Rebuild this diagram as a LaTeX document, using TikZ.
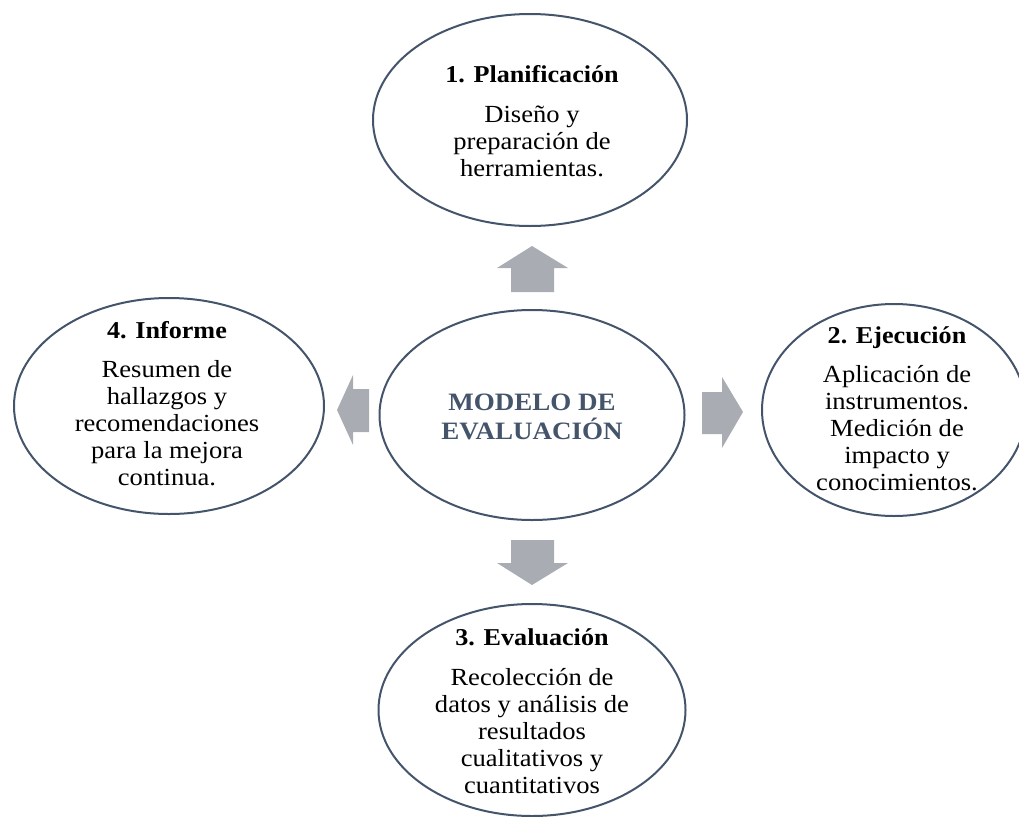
\documentclass[tikz,border=0pt]{standalone}
\usepackage{fontspec}
\setmainfont[FakeStretch=1.08]{Liberation Serif}
\usetikzlibrary{shapes.geometric}
\definecolor{edge}{HTML}{44546A}
\definecolor{arrowgray}{HTML}{A9ACB3}
\newcommand\mylines[1]{\begin{tabular}[t]{@{}c@{}}#1\end{tabular}}
\begin{document}
\begin{tikzpicture}[x=1pt,y=-1pt,
  oval/.style={draw=edge, line width=2pt, ellipse, inner sep=0pt},
  ttl/.style={font=\fontsize{24.2}{28}\selectfont\bfseries, anchor=base, inner sep=0pt},
  body/.style={font=\fontsize{24.6}{27}\selectfont, anchor=base, inner sep=0pt},
  core/.style={font=\fontsize{25}{27}\selectfont\bfseries, text=edge, anchor=base, inner sep=0pt},
  blk/.style={fill=arrowgray}]
\useasboundingbox (0,0) rectangle (1019,816);
\clip (0,0) rectangle (1019,816);
% ellipses
\node[oval, minimum width=314pt, minimum height=212pt] (plan) at (530,120) {};
\node[oval, minimum width=305pt, minimum height=210pt] (model) at (532,415) {};
\node[oval, minimum width=264pt, minimum height=212pt] (ejec) at (894,410) {};
\node[oval, minimum width=310pt, minimum height=216pt] (info) at (169,406) {};
\node[oval, minimum width=307pt, minimum height=212pt] (eval) at (532,710) {};
% texts
\node[core] (modeltxt) at (532,410) {\mylines{MODELO DE\\EVALUACIÓN}};
\node[ttl] (planttl) at (532,82) {1. Planificación};
\node[body] (planbody) at (532,122) {\mylines{Diseño y\\preparación de\\herramientas.}};
\node[ttl] (ejecttl) at (897,343) {2. Ejecución};
\node[body] (ejecbody) at (897,382) {\mylines{Aplicación de\\instrumentos.\\Medición de\\impacto y\\conocimientos.}};
\node[ttl] (evalttl) at (532,645) {3. Evaluación};
\node[body] (evalbody) at (532,685) {\mylines{Recolección de\\datos y análisis de\\resultados\\cualitativos y\\cuantitativos}};
\node[ttl] (infottl) at (167,338) {4. Informe};
\node[body] (infobody) at (167,377) {\mylines{Resumen de\\hallazgos y\\recomendaciones\\para la mejora\\continua.}};
% block arrows
\fill[blk] (511,292) -- (511,268) -- (497,268) -- (532,246) -- (568,268) -- (554,268) -- (554,292) -- cycle;
\fill[blk] (511,540) -- (554,540) -- (554,563) -- (568,563) -- (532,585) -- (497,563) -- (511,563) -- cycle;
\fill[blk] (369,389) -- (353,389) -- (353,375) -- (337,410) -- (353,445) -- (353,432) -- (369,432) -- cycle;
\fill[blk] (702,392) -- (722,392) -- (722,377) -- (743,412) -- (722,448) -- (722,434) -- (702,434) -- cycle;
\end{tikzpicture}
\end{document}
